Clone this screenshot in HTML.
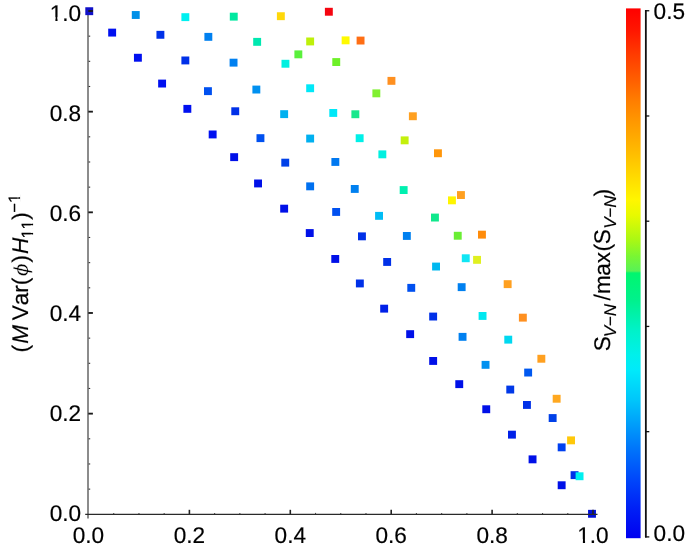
<!DOCTYPE html>
<html><head><meta charset="utf-8"><style>
html,body{margin:0;padding:0;background:#fff;width:685px;height:548px;overflow:hidden;position:relative;font-family:"Liberation Sans", sans-serif;}
</style></head><body>
<svg width="685" height="548" viewBox="0 0 685 548" style="position:absolute;left:0;top:0;will-change:transform" text-rendering="geometricPrecision"><defs><linearGradient id="cb" x1="0" y1="0" x2="0" y2="1"><stop offset="0.0000" stop-color="rgb(255,0,0)"/><stop offset="0.0408" stop-color="rgb(255,22,0)"/><stop offset="0.0880" stop-color="rgb(255,60,0)"/><stop offset="0.1351" stop-color="rgb(255,95,0)"/><stop offset="0.1729" stop-color="rgb(255,125,0)"/><stop offset="0.2106" stop-color="rgb(255,150,0)"/><stop offset="0.2673" stop-color="rgb(255,185,0)"/><stop offset="0.3239" stop-color="rgb(255,222,0)"/><stop offset="0.3616" stop-color="rgb(255,246,0)"/><stop offset="0.3900" stop-color="rgb(232,250,0)"/><stop offset="0.4371" stop-color="rgb(170,248,20)"/><stop offset="0.4673" stop-color="rgb(122,246,50)"/><stop offset="0.4957" stop-color="rgb(88,242,86)"/><stop offset="0.4994" stop-color="rgb(0,246,110)"/><stop offset="0.5504" stop-color="rgb(0,241,140)"/><stop offset="0.6070" stop-color="rgb(0,242,200)"/><stop offset="0.6542" stop-color="rgb(0,240,235)"/><stop offset="0.6825" stop-color="rgb(0,234,250)"/><stop offset="0.7203" stop-color="rgb(0,210,250)"/><stop offset="0.7391" stop-color="rgb(0,198,250)"/><stop offset="0.7769" stop-color="rgb(0,165,250)"/><stop offset="0.8335" stop-color="rgb(0,115,250)"/><stop offset="0.8901" stop-color="rgb(0,70,250)"/><stop offset="0.9468" stop-color="rgb(0,30,245)"/><stop offset="1.0000" stop-color="rgb(0,0,240)"/></linearGradient></defs><rect x="626" y="8.4" width="14.6" height="529.8" fill="url(#cb)"/><line x1="88" y1="10" x2="88" y2="518.6" stroke="#8c8c8c" stroke-width="2"/><rect x="85.30" y="7.25" width="7.9" height="7.9" fill="#1010c8"/><rect x="131.80" y="11.05" width="7.9" height="7.9" fill="#0090e8"/><rect x="181.40" y="13.20" width="7.9" height="7.9" fill="#00f0f0"/><rect x="108.20" y="28.65" width="7.9" height="7.9" fill="#0010f0"/><rect x="156.45" y="30.85" width="7.9" height="7.9" fill="#0030e8"/><rect x="204.40" y="32.90" width="7.9" height="7.9" fill="#0080f0"/><rect x="133.95" y="53.80" width="7.9" height="7.9" fill="#0010f0"/><rect x="181.40" y="56.50" width="7.9" height="7.9" fill="#0030e8"/><rect x="158.15" y="79.60" width="7.9" height="7.9" fill="#0010f0"/><rect x="204.00" y="87.20" width="7.9" height="7.9" fill="#0050f0"/><rect x="183.40" y="104.90" width="7.9" height="7.9" fill="#0010f0"/><rect x="229.80" y="12.70" width="7.9" height="7.9" fill="#00e8a0"/><rect x="276.90" y="12.25" width="7.9" height="7.9" fill="#ffd80a"/><rect x="324.90" y="7.80" width="7.9" height="7.9" fill="#f50510"/><rect x="253.20" y="37.90" width="7.9" height="7.9" fill="#00e8b0"/><rect x="306.20" y="37.50" width="7.9" height="7.9" fill="#bef00a"/><rect x="341.65" y="36.40" width="7.9" height="7.9" fill="#fffa00"/><rect x="294.40" y="50.40" width="7.9" height="7.9" fill="#5af03c"/><rect x="229.60" y="58.70" width="7.9" height="7.9" fill="#0080f0"/><rect x="281.50" y="59.80" width="7.9" height="7.9" fill="#00f0e0"/><rect x="332.30" y="58.10" width="7.9" height="7.9" fill="#6ef028"/><rect x="252.40" y="85.60" width="7.9" height="7.9" fill="#0090f0"/><rect x="306.20" y="84.30" width="7.9" height="7.9" fill="#00e8f8"/><rect x="231.30" y="107.30" width="7.9" height="7.9" fill="#0030e8"/><rect x="280.20" y="110.20" width="7.9" height="7.9" fill="#00b0f0"/><rect x="329.30" y="109.00" width="7.9" height="7.9" fill="#00e8f8"/><rect x="356.60" y="36.60" width="7.9" height="7.9" fill="#ff6e14"/><rect x="387.50" y="76.90" width="7.9" height="7.9" fill="#ff9020"/><rect x="372.40" y="89.40" width="7.9" height="7.9" fill="#80f030"/><rect x="351.40" y="110.30" width="7.9" height="7.9" fill="#18e88c"/><rect x="408.90" y="112.30" width="7.9" height="7.9" fill="#ffa020"/><rect x="208.70" y="130.50" width="7.9" height="7.9" fill="#0010f0"/><rect x="256.50" y="134.20" width="7.9" height="7.9" fill="#0050f0"/><rect x="306.20" y="134.60" width="7.9" height="7.9" fill="#00b0f0"/><rect x="230.20" y="153.20" width="7.9" height="7.9" fill="#0010e8"/><rect x="281.30" y="158.70" width="7.9" height="7.9" fill="#0040e8"/><rect x="331.40" y="158.00" width="7.9" height="7.9" fill="#0078f0"/><rect x="254.10" y="179.50" width="7.9" height="7.9" fill="#0010e8"/><rect x="306.20" y="182.40" width="7.9" height="7.9" fill="#0070f0"/><rect x="280.20" y="204.70" width="7.9" height="7.9" fill="#0010e8"/><rect x="332.20" y="208.00" width="7.9" height="7.9" fill="#0050f0"/><rect x="355.70" y="134.25" width="7.9" height="7.9" fill="#00f0e8"/><rect x="400.70" y="136.40" width="7.9" height="7.9" fill="#c4f00c"/><rect x="378.40" y="150.40" width="7.9" height="7.9" fill="#00f0e0"/><rect x="434.00" y="149.30" width="7.9" height="7.9" fill="#ff960a"/><rect x="350.80" y="185.00" width="7.9" height="7.9" fill="#0080f0"/><rect x="399.70" y="186.10" width="7.9" height="7.9" fill="#00f0b0"/><rect x="448.00" y="196.40" width="7.9" height="7.9" fill="#fff500"/><rect x="457.00" y="191.10" width="7.9" height="7.9" fill="#ffa020"/><rect x="375.10" y="211.90" width="7.9" height="7.9" fill="#00bcf5"/><rect x="431.00" y="213.60" width="7.9" height="7.9" fill="#10e88c"/><rect x="305.80" y="229.10" width="7.9" height="7.9" fill="#0010e8"/><rect x="331.30" y="255.00" width="7.9" height="7.9" fill="#0010e8"/><rect x="358.00" y="232.40" width="7.9" height="7.9" fill="#0030e8"/><rect x="402.90" y="232.00" width="7.9" height="7.9" fill="#0080f0"/><rect x="453.80" y="231.80" width="7.9" height="7.9" fill="#6aee34"/><rect x="383.20" y="258.00" width="7.9" height="7.9" fill="#0030e8"/><rect x="432.10" y="262.60" width="7.9" height="7.9" fill="#00b8f0"/><rect x="461.80" y="254.30" width="7.9" height="7.9" fill="#10e6f4"/><rect x="473.10" y="255.90" width="7.9" height="7.9" fill="#e0f020"/><rect x="355.90" y="279.50" width="7.9" height="7.9" fill="#0030e8"/><rect x="407.30" y="283.90" width="7.9" height="7.9" fill="#0050f0"/><rect x="457.70" y="283.20" width="7.9" height="7.9" fill="#0080f0"/><rect x="380.20" y="304.70" width="7.9" height="7.9" fill="#0020e8"/><rect x="429.20" y="312.60" width="7.9" height="7.9" fill="#0030e8"/><rect x="478.00" y="230.70" width="7.9" height="7.9" fill="#ff8c0a"/><rect x="503.70" y="280.20" width="7.9" height="7.9" fill="#ffa020"/><rect x="478.60" y="312.00" width="7.9" height="7.9" fill="#00e8f0"/><rect x="518.90" y="313.70" width="7.9" height="7.9" fill="#ff9020"/><rect x="406.20" y="330.20" width="7.9" height="7.9" fill="#0010e8"/><rect x="429.20" y="357.00" width="7.9" height="7.9" fill="#0010e8"/><rect x="458.60" y="332.90" width="7.9" height="7.9" fill="#0080f0"/><rect x="504.30" y="335.70" width="7.9" height="7.9" fill="#00d8f0"/><rect x="481.60" y="360.90" width="7.9" height="7.9" fill="#0090f0"/><rect x="537.40" y="354.80" width="7.9" height="7.9" fill="#ffa020"/><rect x="524.20" y="368.60" width="7.9" height="7.9" fill="#0058f0"/><rect x="455.30" y="380.20" width="7.9" height="7.9" fill="#0010e8"/><rect x="506.30" y="385.60" width="7.9" height="7.9" fill="#0038e8"/><rect x="552.70" y="394.80" width="7.9" height="7.9" fill="#ffa820"/><rect x="523.00" y="401.00" width="7.9" height="7.9" fill="#0030e8"/><rect x="482.30" y="405.30" width="7.9" height="7.9" fill="#0010e8"/><rect x="548.70" y="414.10" width="7.9" height="7.9" fill="#0040e8"/><rect x="508.00" y="430.70" width="7.9" height="7.9" fill="#0020e8"/><rect x="567.10" y="436.40" width="7.9" height="7.9" fill="#ffc80a"/><rect x="557.70" y="443.40" width="7.9" height="7.9" fill="#0040f0"/><rect x="528.60" y="455.40" width="7.9" height="7.9" fill="#0010e8"/><rect x="570.60" y="471.20" width="7.9" height="7.9" fill="#0030e8"/><rect x="575.60" y="472.30" width="7.9" height="7.9" fill="#00f0f0"/><rect x="557.70" y="481.30" width="7.9" height="7.9" fill="#0010e8"/><rect x="588.05" y="509.85" width="7.9" height="7.9" fill="#0010d8"/><line x1="85.2" y1="514.3" x2="597.5" y2="514.3" stroke="#2a2a2a" stroke-width="1.3"/><line x1="88.6" y1="489.13" x2="90.2" y2="489.13" stroke="#333" stroke-width="1.1"/><line x1="88.6" y1="463.97" x2="90.2" y2="463.97" stroke="#333" stroke-width="1.1"/><line x1="88.6" y1="438.80" x2="90.2" y2="438.80" stroke="#333" stroke-width="1.1"/><line x1="88.3" y1="413.64" x2="92.9" y2="413.64" stroke="#1a1a1a" stroke-width="1.85"/><line x1="88.6" y1="388.47" x2="90.2" y2="388.47" stroke="#333" stroke-width="1.1"/><line x1="88.6" y1="363.31" x2="90.2" y2="363.31" stroke="#333" stroke-width="1.1"/><line x1="88.6" y1="338.14" x2="90.2" y2="338.14" stroke="#333" stroke-width="1.1"/><line x1="88.3" y1="312.98" x2="92.9" y2="312.98" stroke="#1a1a1a" stroke-width="1.85"/><line x1="88.6" y1="287.81" x2="90.2" y2="287.81" stroke="#333" stroke-width="1.1"/><line x1="88.6" y1="262.65" x2="90.2" y2="262.65" stroke="#333" stroke-width="1.1"/><line x1="88.6" y1="237.48" x2="90.2" y2="237.48" stroke="#333" stroke-width="1.1"/><line x1="88.3" y1="212.32" x2="92.9" y2="212.32" stroke="#1a1a1a" stroke-width="1.85"/><line x1="88.6" y1="187.15" x2="90.2" y2="187.15" stroke="#333" stroke-width="1.1"/><line x1="88.6" y1="161.99" x2="90.2" y2="161.99" stroke="#333" stroke-width="1.1"/><line x1="88.6" y1="136.82" x2="90.2" y2="136.82" stroke="#333" stroke-width="1.1"/><line x1="88.3" y1="111.66" x2="92.9" y2="111.66" stroke="#1a1a1a" stroke-width="1.85"/><line x1="88.6" y1="86.49" x2="90.2" y2="86.49" stroke="#333" stroke-width="1.1"/><line x1="88.6" y1="61.33" x2="90.2" y2="61.33" stroke="#333" stroke-width="1.1"/><line x1="88.6" y1="36.16" x2="90.2" y2="36.16" stroke="#333" stroke-width="1.1"/><line x1="88.3" y1="11.00" x2="92.9" y2="11.00" stroke="#1a1a1a" stroke-width="1.85"/><line x1="113.72" y1="514" x2="113.72" y2="512.9" stroke="#444" stroke-width="1.1"/><line x1="138.95" y1="514" x2="138.95" y2="512.9" stroke="#444" stroke-width="1.1"/><line x1="164.18" y1="514" x2="164.18" y2="512.9" stroke="#444" stroke-width="1.1"/><line x1="189.40" y1="514" x2="189.40" y2="509.8" stroke="#222" stroke-width="1.6"/><line x1="214.62" y1="514" x2="214.62" y2="512.9" stroke="#444" stroke-width="1.1"/><line x1="239.85" y1="514" x2="239.85" y2="512.9" stroke="#444" stroke-width="1.1"/><line x1="265.08" y1="514" x2="265.08" y2="512.9" stroke="#444" stroke-width="1.1"/><line x1="290.30" y1="514" x2="290.30" y2="509.8" stroke="#222" stroke-width="1.6"/><line x1="315.52" y1="514" x2="315.52" y2="512.9" stroke="#444" stroke-width="1.1"/><line x1="340.75" y1="514" x2="340.75" y2="512.9" stroke="#444" stroke-width="1.1"/><line x1="365.98" y1="514" x2="365.98" y2="512.9" stroke="#444" stroke-width="1.1"/><line x1="391.20" y1="514" x2="391.20" y2="509.8" stroke="#222" stroke-width="1.6"/><line x1="416.43" y1="514" x2="416.43" y2="512.9" stroke="#444" stroke-width="1.1"/><line x1="441.65" y1="514" x2="441.65" y2="512.9" stroke="#444" stroke-width="1.1"/><line x1="466.88" y1="514" x2="466.88" y2="512.9" stroke="#444" stroke-width="1.1"/><line x1="492.10" y1="514" x2="492.10" y2="509.8" stroke="#222" stroke-width="1.6"/><line x1="517.33" y1="514" x2="517.33" y2="512.9" stroke="#444" stroke-width="1.1"/><line x1="542.55" y1="514" x2="542.55" y2="512.9" stroke="#444" stroke-width="1.1"/><line x1="567.78" y1="514" x2="567.78" y2="512.9" stroke="#444" stroke-width="1.1"/><line x1="593.00" y1="514" x2="593.00" y2="509.8" stroke="#222" stroke-width="1.6"/><line x1="645.85" y1="10.0" x2="645.85" y2="537.6" stroke="#111" stroke-width="1.8"/><line x1="645" y1="536.90" x2="649.3" y2="536.90" stroke="#111" stroke-width="1.3"/><line x1="645" y1="431.67" x2="649.3" y2="431.67" stroke="#111" stroke-width="1.3"/><line x1="645" y1="326.44" x2="649.3" y2="326.44" stroke="#111" stroke-width="1.3"/><line x1="645" y1="221.21" x2="649.3" y2="221.21" stroke="#111" stroke-width="1.3"/><line x1="645" y1="115.98" x2="649.3" y2="115.98" stroke="#111" stroke-width="1.3"/><line x1="645" y1="10.75" x2="649.3" y2="10.75" stroke="#111" stroke-width="1.3"/><g font-family='"Liberation Sans", sans-serif' font-size="22.6" fill="#000" stroke="#000" stroke-width="0.18"><text x="81.2" y="520.60" text-anchor="end">0.0</text><text x="88.50" y="542.8" text-anchor="middle">0.0</text><text x="81.2" y="420.60" text-anchor="end">0.2</text><text x="189.40" y="542.8" text-anchor="middle">0.2</text><text x="81.2" y="320.60" text-anchor="end">0.4</text><text x="290.30" y="542.8" text-anchor="middle">0.4</text><text x="81.2" y="220.60" text-anchor="end">0.6</text><text x="391.20" y="542.8" text-anchor="middle">0.6</text><text x="81.2" y="120.60" text-anchor="end">0.8</text><text x="492.10" y="542.8" text-anchor="middle">0.8</text><text x="81.2" y="20.60" text-anchor="end">1.0</text><text x="593.00" y="542.8" text-anchor="middle">1.0</text><rect x="50.45" y="16.96" width="4.94" height="4.64" fill="#fff" stroke="none"/><rect x="57.54" y="16.96" width="4.49" height="4.64" fill="#fff" stroke="none"/><rect x="577.95" y="539.16" width="4.94" height="4.64" fill="#fff" stroke="none"/><rect x="585.05" y="539.16" width="4.49" height="4.64" fill="#fff" stroke="none"/><text x="653.6" y="19.3">0.5</text><text x="653.6" y="541.3">0.0</text></g><g transform="translate(27.85,351) rotate(-90)" font-family='"Liberation Sans", sans-serif' fill="#000" stroke="#000" stroke-width="0.18"><text x="-1.55" y="0.00" font-size="22.6">(</text><text x="7.34" y="0.00" font-size="22.6" font-style="italic">M</text><text x="30.81" y="0.00" font-size="22.6">V</text><text x="45.79" y="0.00" font-size="22.6">a</text><text x="58.37" y="0.00" font-size="22.6">r</text><text x="65.70" y="0.00" font-size="22.6">(</text><text x="74.82" y="0.00" font-size="22.6" font-style="italic" transform="translate(81.10,0.50) scale(1.06,0.9) translate(-81.10,-0.50)" stroke="#fff" stroke-width="0.35" paint-order="normal">ϕ</text><text x="88.57" y="0.00" font-size="22.6">)</text><text x="97.08" y="0.00" font-size="22.6" font-style="italic">H</text><text x="112.42" y="5.55" font-size="16.5">1</text><text x="121.62" y="5.55" font-size="16.5">1</text><text x="131.32" y="0.00" font-size="22.6">)</text><text x="138.18" y="-8.25" font-size="16.5">−</text><text x="148.12" y="-8.25" font-size="16.5">1</text><rect x="112.91" y="2.89" width="3.61" height="3.66" fill="#fff" stroke="none"/><rect x="118.09" y="2.89" width="3.28" height="3.66" fill="#fff" stroke="none"/><rect x="122.11" y="2.89" width="3.61" height="3.66" fill="#fff" stroke="none"/><rect x="127.29" y="2.89" width="3.28" height="3.66" fill="#fff" stroke="none"/><rect x="148.61" y="-10.91" width="3.61" height="3.66" fill="#fff" stroke="none"/><rect x="153.79" y="-10.91" width="3.28" height="3.66" fill="#fff" stroke="none"/></g><g transform="translate(610.2,351) rotate(-90)" font-family='"Liberation Sans", sans-serif' fill="#000" stroke="#000" stroke-width="0.18"><text x="-0.28" y="0.00" font-size="22.6">S</text><text x="13.89" y="5.60" font-size="17" font-style="italic">V</text><text x="24.88" y="5.60" font-size="17" font-style="italic">−</text><text x="34.70" y="5.60" font-size="17" font-style="italic">N</text><text x="50.56" y="0.00" font-size="22.6">/</text><text x="57.13" y="0.00" font-size="22.6">m</text><text x="75.29" y="0.00" font-size="22.6">a</text><text x="87.84" y="0.00" font-size="22.6">x</text><text x="99.50" y="0.00" font-size="22.6">(</text><text x="106.77" y="0.00" font-size="22.6">S</text><text x="122.34" y="5.60" font-size="17" font-style="italic">V</text><text x="133.38" y="5.60" font-size="17" font-style="italic">−</text><text x="143.35" y="5.60" font-size="17" font-style="italic">N</text><text x="154.67" y="0.00" font-size="22.6">)</text></g></svg>
</body></html>
